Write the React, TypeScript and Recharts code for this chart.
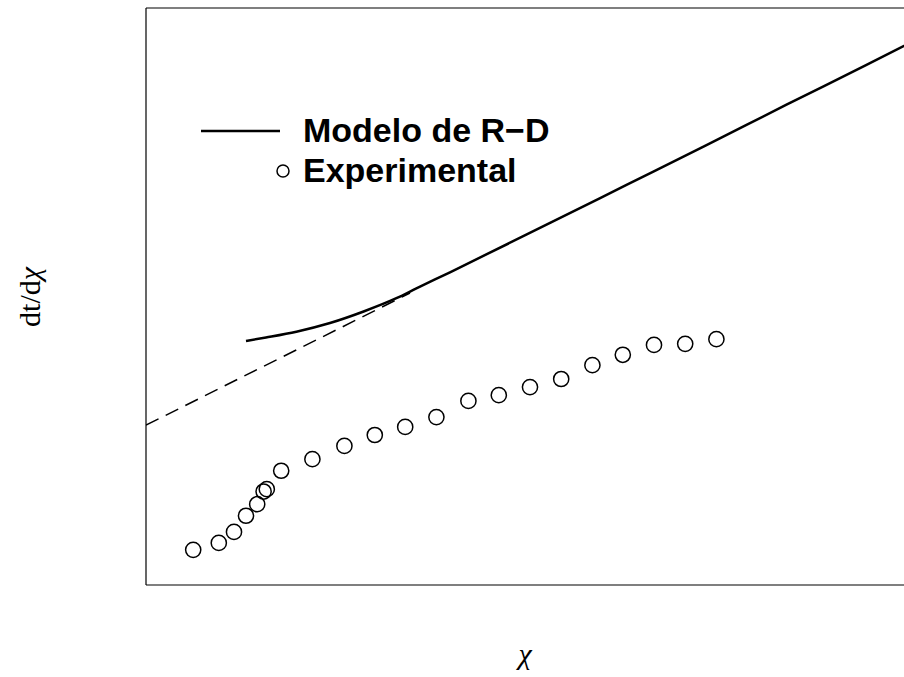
import { ComposedChart, Line, Scatter, XAxis, YAxis, ReferenceLine } from "recharts";

// experimental points (chi, dt/dchi)
const expX = [0.59, 0.91, 1.1, 1.25, 1.39, 1.47, 1.51, 1.69, 2.08, 2.48, 2.86, 3.24, 3.63, 4.03, 4.41, 4.8, 5.19, 5.58, 5.96, 6.35, 6.74, 7.13];
const expY = [0.61, 0.73, 0.92, 1.2, 1.4, 1.62, 1.66, 1.98, 2.18, 2.41, 2.6, 2.74, 2.91, 3.19, 3.29, 3.43, 3.57, 3.81, 3.99, 4.16, 4.18, 4.26];

// R-D model curve
const modelX = [1.25, 1.5, 1.88, 2.3, 2.72, 3.13, 3.38, 3.8, 5.0, 6.0, 7.0, 8.0, 9.0, 9.6];
const modelY = [4.23, 4.29, 4.39, 4.54, 4.74, 4.97, 5.14, 5.42, 6.24, 6.93, 7.62, 8.32, 9.01, 9.43];

// asymptote extended back to the left edge
const asymX = [0, 3.3];
const asymY = [2.77, 5.06];

const expData = expX.map((x, i) => ({ x, y: expY[i] }));
const modelData = modelX.map((x, i) => ({ x, y: modelY[i] }));
const asymData = asymX.map((x, i) => ({ x, y: asymY[i] }));

const OpenCircle = (props: any) => (
  <circle cx={props.cx} cy={props.cy} r={7.6} fill="none" stroke="#000" strokeWidth={1.5} />
);

const serif = "'Liberation Serif', 'DejaVu Serif', 'Times New Roman', serif";

export default function App() {
  return (
    <div style={{ position: "absolute", left: 0, top: 0, width: 904, height: 677, overflow: "hidden", background: "#fff" }}>
      <ComposedChart width={904} height={677} margin={{ top: 8, right: 0, bottom: 92, left: 146 }}>
        <XAxis type="number" dataKey="x" domain={[0, 9.475]} hide allowDataOverflow />
        <YAxis type="number" dataKey="y" domain={[0, 10]} hide allowDataOverflow />
        {/* box: left, bottom, top (right side runs off the page) */}
        <ReferenceLine x={0} stroke="#000" strokeWidth={1.2} />
        <ReferenceLine y={0} stroke="#000" strokeWidth={1.2} />
        <ReferenceLine y={10} stroke="#000" strokeWidth={1.2} />
        <Line data={asymData} dataKey="y" type="linear" stroke="#000" strokeWidth={1.5} strokeDasharray="14 8" dot={false} isAnimationActive={false} />
        <Line data={modelData} dataKey="y" type="monotone" stroke="#000" strokeWidth={2.5} dot={false} isAnimationActive={false} />
        <Scatter data={expData} dataKey="y" shape={OpenCircle} isAnimationActive={false} />
      </ComposedChart>
      <svg width={904} height={677} style={{ position: "absolute", left: 0, top: 0, pointerEvents: "none" }}>
        <line x1={201} y1={131} x2={280} y2={131} stroke="#000" strokeWidth={2.5} />
        <circle cx={283} cy={171} r={6} fill="none" stroke="#000" strokeWidth={1.5} />
        <g style={{ fontFamily: "'Liberation Sans', Arial, sans-serif", fontWeight: "bold", fontSize: 34 }} fill="#000">
          <text x={303} y={142}>Modelo de R−D</text>
          <text x={303} y={182}>Experimental</text>
        </g>
        <g style={{ fontFamily: serif, fontSize: 30 }} fill="#000">
          <text x={525} y={664} textAnchor="middle" fontStyle="italic">χ</text>
          <text x={0} y={0} textAnchor="middle" transform="translate(40,297) rotate(-90)">
            dt/d<tspan fontStyle="italic">χ</tspan>
          </text>
        </g>
      </svg>
    </div>
  );
}
